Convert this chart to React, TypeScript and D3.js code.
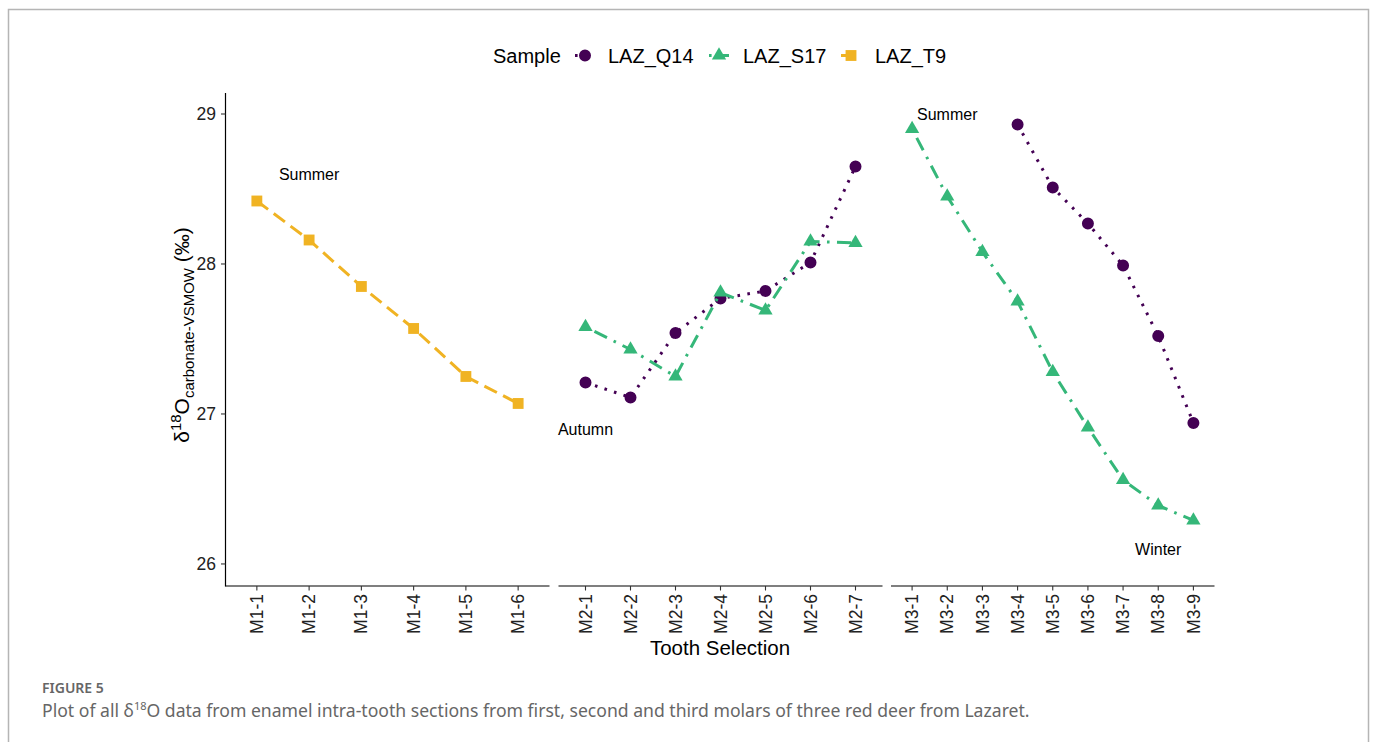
import React from "react";
import * as d3 from "d3";

const m1Categories = ["M1-1", "M1-2", "M1-3", "M1-4", "M1-5", "M1-6"];
const m2Categories = ["M2-1", "M2-2", "M2-3", "M2-4", "M2-5", "M2-6", "M2-7"];
const m3Categories = ["M3-1", "M3-2", "M3-3", "M3-4", "M3-5", "M3-6", "M3-7", "M3-8", "M3-9"];
const yTicks = [26, 27, 28, 29];

const sampleNames = ["LAZ_Q14", "LAZ_S17", "LAZ_T9"];
const sampleColors = ["#440154", "#35B779", "#F0B323"];

const t9M1Values = [28.42, 28.16, 27.85, 27.57, 27.25, 27.07];
const q14M2Values = [27.21, 27.11, 27.54, 27.77, 27.82, 28.01, 28.65];
const s17M2Values = [27.58, 27.43, 27.25, 27.81, 27.69, 28.15, 28.14];
const q14M3Values: (number | null)[] = [null, null, null, 28.93, 28.51, 28.27, 27.99, 27.52, 26.94];
const s17M3Values = [28.9, 28.45, 28.08, 27.75, 27.28, 26.91, 26.56, 26.39, 26.29];

const annotationLabels = ["Summer", "Autumn", "Summer", "Winter"];
const annotationPanels = [0, 1, 2, 2];
const annotationCategories = ["M1-2", "M2-1", "M3-2", "M3-8"];
const annotationValues = [28.595, 26.895, 28.995, 26.1];

const FONT = "'Liberation Sans', Arial, sans-serif";
const CAPTION_FONT = "'Noto Sans', 'Open Sans', sans-serif";

const panelRanges: [number, number][] = [
  [225.5, 549.5],
  [558.5, 882.5],
  [891, 1214.5],
];
const panelCategories = [m1Categories, m2Categories, m3Categories];
const Y_BOTTOM = 586;
const Y_TOP = 93;

type Series = { sample: number; panel: number; values: (number | null)[] };
const seriesList: Series[] = [
  { sample: 2, panel: 0, values: t9M1Values },
  { sample: 0, panel: 1, values: q14M2Values },
  { sample: 1, panel: 1, values: s17M2Values },
  { sample: 0, panel: 2, values: q14M3Values },
  { sample: 1, panel: 2, values: s17M3Values },
];

const dashes = ["2.6 7.4", "2.6 7.4 14 7.4", "14 7"];
const symbolTypes = [d3.symbolCircle, d3.symbolTriangle, d3.symbolSquare];
const symbolSizes = [113, 88, 118];

export default function App() {
  const y = d3.scaleLinear().domain([25.853, 29.14]).range([Y_BOTTOM, Y_TOP]);
  const xScales = panelCategories.map((cats, i) =>
    d3.scalePoint<string>().domain(cats).range(panelRanges[i]).padding(0.6)
  );

  const symbolPath = (s: number) => d3.symbol().type(symbolTypes[s]).size(symbolSizes[s])() || "";

  const legendItems = [
    { key: 585, text: 608 },
    { key: 719, text: 743 },
    { key: 851, text: 875 },
  ];

  return (
    <svg
      width={1375}
      height={742}
      style={{ position: "absolute", left: 0, top: 0, background: "#fff" }}
    >
      <rect x={0} y={0} width={1375} height={742} fill="#fff" />
      <rect x={8.5} y={9.5} width={1360} height={800} fill="none" stroke="#b5b5b5" strokeWidth={1.5} />

      {/* Legend */}
      <text x={493} y={63} fontFamily={FONT} fontSize={20} fill="#000">
        Sample
      </text>
      {sampleNames.map((name, i) => (
        <g key={name}>
          <line
            x1={legendItems[i].key - 10}
            x2={legendItems[i].key + 10}
            y1={55.5}
            y2={55.5}
            stroke={sampleColors[i]}
            strokeWidth={3}
            strokeDasharray={dashes[i]}
          />
          <path
            d={symbolPath(i)}
            transform={`translate(${legendItems[i].key},${55.5})`}
            fill={sampleColors[i]}
          />
          <text x={legendItems[i].text} y={63} fontFamily={FONT} fontSize={20} fill="#000">
            {name}
          </text>
        </g>
      ))}

      {/* Y axis */}
      <line x1={225.5} x2={225.5} y1={Y_TOP} y2={Y_BOTTOM + 0.5} stroke="#000" strokeWidth={1.2} />
      {yTicks.map((t) => (
        <g key={t}>
          <line x1={221} x2={225.5} y1={y(t)} y2={y(t)} stroke="#333" strokeWidth={1.1} />
          <text
            x={216}
            y={y(t)}
            dy="0.35em"
            textAnchor="end"
            fontFamily={FONT}
            fontSize={17.5}
            fill="#222"
          >
            {t}
          </text>
        </g>
      ))}
      <text
        transform={`translate(189,335) rotate(-90)`}
        textAnchor="middle"
        fontFamily={FONT}
        fill="#000"
        fontSize={21}
      >
        <tspan>δ</tspan>
        <tspan fontSize={15} dy={-8}>
          18
        </tspan>
        <tspan dy={8}>O</tspan>
        <tspan fontSize={15} dy={5}>
          carbonate-VSMOW
        </tspan>
        <tspan dy={-5}> (‰)</tspan>
      </text>

      {/* Panels */}
      {panelCategories.map((cats, pi) => (
        <g key={pi}>
          <line
            x1={panelRanges[pi][0]}
            x2={panelRanges[pi][1]}
            y1={Y_BOTTOM}
            y2={Y_BOTTOM}
            stroke="#000"
            strokeWidth={1.2}
          />
          {cats.map((c) => (
            <g key={c}>
              <line
                x1={xScales[pi](c)}
                x2={xScales[pi](c)}
                y1={Y_BOTTOM}
                y2={Y_BOTTOM + 4.5}
                stroke="#333"
                strokeWidth={1.1}
              />
              <text
                transform={`translate(${xScales[pi](c)},${Y_BOTTOM + 8}) rotate(-90)`}
                textAnchor="end"
                dy="0.35em"
                fontFamily={FONT}
                fontSize={17.5}
                fill="#222"
              >
                {c}
              </text>
            </g>
          ))}
        </g>
      ))}

      {/* Series */}
      {seriesList.map((s, si) => {
        const cats = panelCategories[s.panel];
        const xs = xScales[s.panel];
        const pts = s.values.map((v, i) => ({ c: cats[i], v }));
        const line = d3
          .line<{ c: string; v: number | null }>()
          .defined((d) => d.v != null)
          .x((d) => xs(d.c) as number)
          .y((d) => y(d.v as number));
        return (
          <g key={si}>
            <path
              d={line(pts) || ""}
              fill="none"
              stroke={sampleColors[s.sample]}
              strokeWidth={3}
              strokeDasharray={dashes[s.sample]}
            />
            {pts
              .filter((d) => d.v != null)
              .map((d) => (
                <path
                  key={d.c}
                  d={symbolPath(s.sample)}
                  transform={`translate(${xs(d.c)},${y(d.v as number)})`}
                  fill={sampleColors[s.sample]}
                />
              ))}
          </g>
        );
      })}

      {/* Annotations */}
      {annotationLabels.map((lab, i) => (
        <text
          key={i}
          x={xScales[annotationPanels[i]](annotationCategories[i])}
          y={y(annotationValues[i])}
          dy="0.35em"
          textAnchor="middle"
          fontFamily={FONT}
          fontSize={16}
          fill="#000"
        >
          {lab}
        </text>
      ))}

      {/* X title */}
      <text x={720} y={655} textAnchor="middle" fontFamily={FONT} fontSize={20.5} fill="#000">
        Tooth Selection
      </text>

      {/* Caption */}
      <text x={42} y={693} fontFamily={CAPTION_FONT} fontSize={14} fontWeight={600} fill="#666">
        FIGURE 5
      </text>
      <text x={42} y={717} fontFamily={CAPTION_FONT} fontSize={17.6} fill="#666">
        <tspan>Plot of all δ</tspan>
        <tspan fontSize={11} dy={-7}>
          18
        </tspan>
        <tspan dy={7}>
          O data from enamel intra-tooth sections from first, second and third molars of three red deer from Lazaret.
        </tspan>
      </text>
    </svg>
  );
}
